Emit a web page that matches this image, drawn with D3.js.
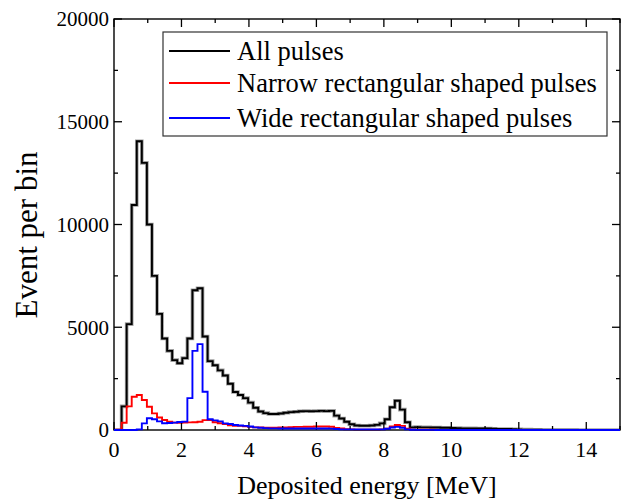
<!DOCTYPE html>
<html>
<head>
<meta charset="utf-8">
<script src="https://cdn.jsdelivr.net/npm/d3@7/dist/d3.min.js"></script>
<style>
  html, body { margin: 0; padding: 0; background: #fff; }
</style>
</head>
<body>
<svg id="chart" width="624" height="501"></svg>
<script>
// Bin centres: 0, 0.15, ..., 15 MeV (101 bins)
const binWidth = 0.15;
const energies = d3.range(101).map(k => +(k * binWidth).toFixed(2));

const allPulses = [
  0, 0, 1150, 5150, 10950, 14050, 13000, 10000, 7500, 5650,
  4450, 3850, 3400, 3250, 3500, 4450, 6800, 6900, 4550, 3350,
  3150, 2900, 2650, 2250, 1850, 1700, 1550, 1330, 1080, 900,
  820, 780, 780, 800, 840, 870, 890, 910, 920, 910,
  920, 930, 920, 930, 700, 560, 400, 280, 220, 210,
  210, 220, 250, 320, 520, 1110, 1420, 990, 380, 130,
  140, 130, 130, 120, 120, 110, 110, 100, 90, 80,
  80, 80, 70, 70, 70, 60, 50, 50, 50, 40,
  30, 20, 20, 10, 10, 5, 5, 5, 5, 5,
  5, 5, 0, 0, 0, 0, 0, 0, 0, 0, 0
];

const narrowPulses = [
  0, 20, 350, 1150, 1620, 1700, 1460, 1130, 810, 610,
  490, 400, 360, 350, 360, 370, 380, 400, 480, 490,
  380, 330, 290, 230, 210, 200, 180, 150, 130, 120,
  110, 110, 110, 120, 130, 140, 150, 150, 160, 160,
  170, 170, 170, 160, 100, 70, 40, 30, 20, 20,
  20, 20, 20, 30, 60, 170, 240, 200, 60, 20,
  10, 10, 10, 10, 5, 5, 5, 5, 0, 0,
  0, 0, 0, 0, 0, 0, 0, 0, 0, 0,
  0, 0, 0, 0, 0, 0, 0, 0, 0, 0,
  0, 0, 0, 0, 0, 0, 0, 0, 0, 0, 0
];

const widePulses = [
  0, 0, 0, 0, 0, 30, 320, 570, 520, 420,
  330, 340, 360, 390, 410, 1550, 3850, 4180, 1860, 520,
  470, 420, 320, 290, 240, 220, 200, 170, 130, 110,
  90, 80, 80, 75, 75, 70, 70, 70, 70, 70,
  70, 70, 70, 65, 50, 30, 30, 30, 30, 30,
  30, 30, 30, 30, 60, 120, 150, 110, 30, 10,
  5, 5, 5, 5, 0, 0, 0, 0, 0, 0,
  0, 0, 0, 0, 0, 0, 0, 0, 0, 0,
  0, 0, 0, 0, 0, 0, 0, 0, 0, 0,
  0, 0, 0, 0, 0, 0, 0, 0, 0, 0, 0
];

const seriesNames = ["All pulses", "Narrow rectangular shaped pulses", "Wide rectangular shaped pulses"];
const seriesColors = ["#000000", "#ff0000", "#0000ff"];
const xTickValues = [0, 2, 4, 6, 8, 10, 12, 14];
const yTickValues = [0, 5000, 10000, 15000, 20000];
const xLabel = "Deposited energy [MeV]";
const yLabel = "Event per bin";

(function () {
const FONT = "Liberation Serif";
const svg = d3.select("#chart");
const pL = 114, pR = 620, pT = 19, pB = 430;

const x = d3.scaleLinear().domain([0, 15]).range([pL, pR]);
const y = d3.scaleLinear().domain([0, 20000]).range([pB, pT]);

svg.append("defs").append("clipPath").attr("id", "clip")
  .append("rect").attr("x", pL).attr("y", pT)
  .attr("width", pR - pL).attr("height", pB - pT + 1);

const line = vals => d3.line()
  .x((d, i) => x(energies[i]))
  .y(d => y(d))
  .curve(d3.curveStep)(vals);

const plot = svg.append("g").attr("clip-path", "url(#clip)");

plot.append("path").attr("d", line(allPulses))
  .attr("fill", "none").attr("stroke", "#a0a0a0").attr("stroke-width", 3.6);
plot.append("path").attr("d", line(allPulses))
  .attr("fill", "none").attr("stroke", seriesColors[0]).attr("stroke-width", 1.9);
plot.append("path").attr("d", line(narrowPulses))
  .attr("fill", "none").attr("stroke", seriesColors[1]).attr("stroke-width", 1.9);

// Axes with inward ticks
const axisG = svg.append("g").attr("stroke", "#000");
const xMinor = d3.range(0, 16, 1);
const yMinor = d3.range(0, 20001, 2500);

xMinor.forEach(v => {
  const len = v % 2 === 0 ? 8 : 4;
  axisG.append("line").attr("x1", x(v)).attr("x2", x(v)).attr("y1", pB).attr("y2", pB - len).attr("stroke-width", 1.3);
  axisG.append("line").attr("x1", x(v)).attr("x2", x(v)).attr("y1", pT).attr("y2", pT + len).attr("stroke-width", 1.3);
});
yMinor.forEach(v => {
  const len = v % 5000 === 0 ? 8 : 4;
  axisG.append("line").attr("y1", y(v)).attr("y2", y(v)).attr("x1", pL).attr("x2", pL + len).attr("stroke-width", 1.3);
  axisG.append("line").attr("y1", y(v)).attr("y2", y(v)).attr("x1", pR).attr("x2", pR - len).attr("stroke-width", 1.3);
});

svg.append("rect").attr("x", pL).attr("y", pT).attr("width", pR - pL).attr("height", pB - pT)
  .attr("fill", "none").attr("stroke", "#000").attr("stroke-width", 1.4);

// blue drawn last, over the baseline
svg.append("path").attr("d", line(widePulses)).attr("clip-path", "url(#clip)")
  .attr("fill", "none").attr("stroke", seriesColors[2]).attr("stroke-width", 1.9);

// Tick labels
svg.append("g").selectAll("text").data(xTickValues).join("text")
  .attr("font-family", FONT)
  .attr("x", d => x(d)).attr("y", 457)
  .attr("text-anchor", "middle").attr("font-size", 22).attr("fill", "#000")
  .text(d => d);

svg.append("g").selectAll("text").data(yTickValues).join("text")
  .attr("font-family", FONT)
  .attr("x", 109).attr("y", d => y(d)).attr("dy", "0.35em")
  .attr("text-anchor", "end").attr("font-size", 21).attr("fill", "#000")
  .text(d => d);

// Axis titles
svg.append("text").attr("font-family", FONT)
  .attr("x", (pL + pR) / 2).attr("y", 494)
  .attr("text-anchor", "middle").attr("font-size", 26).attr("fill", "#000")
  .text(xLabel);

svg.append("text").attr("font-family", FONT)
  .attr("transform", "translate(37,235) rotate(-90)")
  .attr("text-anchor", "middle").attr("font-size", 31).attr("fill", "#000")
  .text(yLabel);

// Legend
const legend = svg.append("g");
legend.append("rect").attr("x", 163).attr("y", 32).attr("width", 444).attr("height", 104)
  .attr("fill", "#fff").attr("stroke", "#333").attr("stroke-width", 1.2);
const legY = [51, 83, 118];
seriesNames.forEach((name, i) => {
  legend.append("line").attr("x1", 169).attr("x2", 230).attr("y1", legY[i]).attr("y2", legY[i])
    .attr("stroke", seriesColors[i]).attr("stroke-width", 1.9);
  legend.append("text").attr("font-family", FONT)
    .attr("x", 237).attr("y", legY[i]).attr("dy", "0.35em")
    .attr("font-size", 26.5).attr("fill", "#000").text(name);
});
})();
</script>
</body>
</html>
